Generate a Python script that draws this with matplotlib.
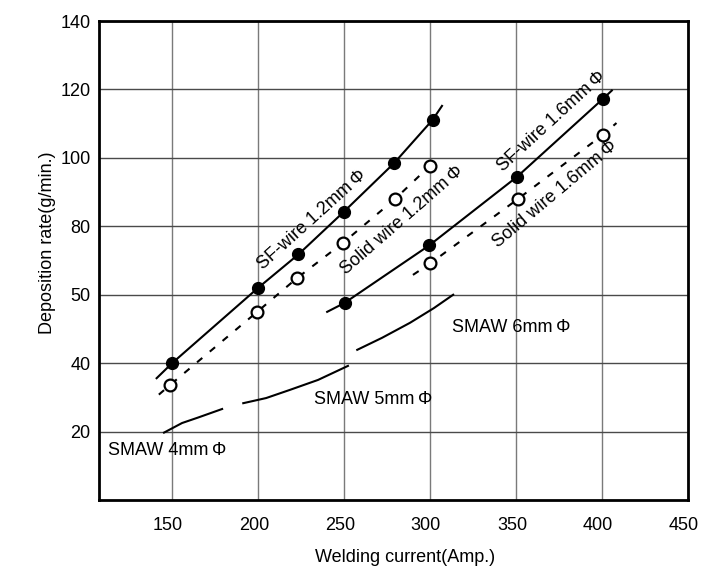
import matplotlib
matplotlib.use('Agg')
import matplotlib.pyplot as plt
from matplotlib.transforms import ScaledTranslation

plt.rcParams['font.family'] = ['Liberation Sans', 'DejaVu Sans']

# --- data (Amp. vs g/min.) ---
# SF-wire 1.2mm (filled markers, solid line)
sf12_x = [150, 200, 223.5, 250, 279, 301.5]
sf12_y = [40, 62, 71.8, 84.3, 98.4, 111.1]
sf12_line_x = [141, 150, 200, 223.5, 250, 279, 301.5, 307]
sf12_line_y = [35.6, 40, 62, 71.8, 84.3, 98.4, 111.1, 115.2]

# Solid wire 1.2mm (open markers, dashed line)
sw12_x = [149, 199.5, 222.5, 249.5, 279.5, 300]
sw12_y = [33.7, 55, 64.8, 75.2, 87.9, 97.7]
sw12_line_x = [142.3, 149, 199.5, 222.5, 249.5, 279.5, 300]
sw12_line_y = [30.8, 33.7, 55, 64.8, 75.2, 87.9, 97.7]

# SF-wire 1.6mm
sf16_x = [250.3, 299.5, 350.7, 400.7]
sf16_y = [57.6, 74.4, 94.5, 117.3]
sf16_line_x = [240.2, 250.3, 299.5, 350.7, 400.7, 405.8]
sf16_line_y = [55.0, 57.6, 74.4, 94.5, 117.3, 119.7]

# Solid wire 1.6mm
sw16_x = [300.3, 351.2, 400.7]
sw16_y = [69.2, 88.0, 106.8]
sw16_line_x = [290.1, 300.3, 351.2, 400.7, 408.5]
sw16_line_y = [65.8, 69.2, 88.0, 106.8, 110.2]

# SMAW curves (no markers)
smaw4_x = [145.3, 155.8, 165.1, 179.1]
smaw4_y = [19.7, 22.5, 24.1, 26.6]
smaw5_x = [191.4, 204.7, 218.6, 234.9, 252.3]
smaw5_y = [28.3, 29.8, 32.2, 35.1, 39.2]
smaw6_x = [257.7, 272.1, 288.4, 302.3, 313.5]
smaw6_y = [43.9, 47.4, 51.8, 56.1, 60.0]

x_ticks = [150, 200, 250, 300, 350, 400, 450]
y_ticks = [20, 40, 60, 80, 100, 120, 140]
y_tick_labels = ['20', '40', '50', '80', '100', '120', '140']

PHI = '\u2009\u03a6'

fig = plt.figure(figsize=(7.15, 5.85), dpi=100)
ax = fig.add_axes([0.1385, 0.1453, 0.8235, 0.8187])

lw = 1.5
ax.plot(sf12_line_x, sf12_line_y, color='black', lw=lw, zorder=3)
ax.plot(sf12_x, sf12_y, 'o', color='black', ms=8.5, zorder=4)

l, = ax.plot(sw12_line_x, sw12_line_y, color='black', lw=lw, zorder=3)
l.set_dashes([3.3, 4.7])
ax.plot(sw12_x, sw12_y, 'o', mfc='white', mec='black', mew=1.6, ms=8.5, zorder=4)

ax.plot(sf16_line_x, sf16_line_y, color='black', lw=lw, zorder=3)
ax.plot(sf16_x, sf16_y, 'o', color='black', ms=8.5, zorder=4)

l, = ax.plot(sw16_line_x, sw16_line_y, color='black', lw=lw, zorder=3)
l.set_dashes([3.3, 4.7])
ax.plot(sw16_x, sw16_y, 'o', mfc='white', mec='black', mew=1.6, ms=8.5, zorder=4)

for xs, ys in [(smaw4_x, smaw4_y), (smaw5_x, smaw5_y), (smaw6_x, smaw6_y)]:
    ax.plot(xs, ys, color='black', lw=lw, zorder=3)

# labels
fs = 13
ax.text(113, 14.4, 'SMAW 4mm' + PHI, fontsize=fs, va='center', ha='left', zorder=5)
ax.text(232.3, 29.3, 'SMAW 5mm' + PHI, fontsize=fs, va='center', ha='left', zorder=5)
ax.text(312.8, 50.4, 'SMAW 6mm' + PHI, fontsize=fs, va='center', ha='left', zorder=5)
ax.text(231.2, 81.9, 'SF-wire 1.2mm' + PHI, fontsize=fs, rotation=42,
        ha='center', va='center', rotation_mode='anchor', zorder=5)
ax.text(284, 81.6, 'Solid wire 1.2mm' + PHI, fontsize=fs, rotation=41,
        ha='center', va='center', rotation_mode='anchor', zorder=5)
ax.text(370.9, 110.6, 'SF-wire 1.6mm' + PHI, fontsize=fs, rotation=42.5,
        ha='center', va='center', rotation_mode='anchor', zorder=5)
ax.text(372.6, 89.5, 'Solid wire 1.6mm' + PHI, fontsize=fs, rotation=40,
        ha='center', va='center', rotation_mode='anchor', zorder=5)

ax.set_xlim(107.5, 450)
ax.set_ylim(0, 140)
ax.set_xticks(x_ticks)
ax.set_yticks(y_ticks)
ax.set_yticklabels(y_tick_labels)
ax.tick_params(axis='both', length=0, labelsize=13)
ax.tick_params(axis='x', pad=12)
ax.tick_params(axis='y', pad=6)
# x tick labels sit a little left of the grid lines in the original
shift = ScaledTranslation(-0.04, 0, fig.dpi_scale_trans)
for lab in ax.get_xticklabels():
    lab.set_transform(lab.get_transform() + shift)

ax.grid(True, axis='x', color='#7a7a7a', lw=1.0)
ax.grid(True, axis='y', color='#4a4a4a', lw=1.0)
ax.set_axisbelow(True)
for sp in ax.spines.values():
    sp.set_linewidth(2.0)
    sp.set_color('black')

ax.set_xlabel('Welding current(Amp.)', fontsize=13)
ax.set_ylabel('Deposition rate(g/min.)', fontsize=13)
ax.xaxis.set_label_coords(0.519, -0.103)
ax.yaxis.set_label_coords(-0.073, 0.537)

fig.savefig('out.png', dpi=100)
